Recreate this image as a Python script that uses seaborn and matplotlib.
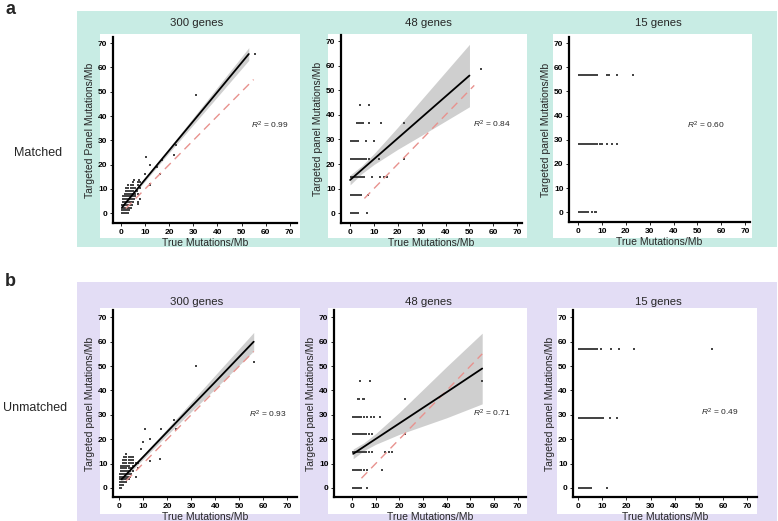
import matplotlib
matplotlib.use("Agg")
import matplotlib.pyplot as plt
from matplotlib.patches import Rectangle
import seaborn as sns
import pandas as pd

sns.set_theme(style="white")
plt.rcParams["font.family"] = ["Liberation Sans", "DejaVu Sans"]
plt.rcParams["mathtext.fontset"] = "custom"
plt.rcParams["mathtext.it"] = "Liberation Sans:italic"
plt.rcParams["mathtext.rm"] = "Liberation Sans"

# ---------------- data ----------------
panel_titles = ["300 genes", "48 genes", "15 genes"]
row_labels = ["Matched", "Unmatched"]
ticks = [0, 10, 20, 30, 40, 50, 60, 70]

# Matched, 300 genes: rows of points (y level -> x values) plus outliers
a1_levels = [0, 1.2, 2.3, 3.5, 4.6, 5.8, 6.9, 8.1, 9.2, 10.4, 11.5, 12.7, 13.8]
a1_rows = [
    [0.5, 1, 1.5, 2, 2.5, 3],
    [0.5, 1, 1.5, 2, 2.5, 3, 3.5],
    [0.5, 1, 1.5, 2, 2.5, 3, 3.5, 4],
    [0.5, 1, 1.5, 2, 2.5, 3, 3.5, 4, 4.5],
    [1, 1.5, 2, 2.5, 3, 3.5, 4, 5, 7],
    [1, 1.5, 2, 2.5, 3, 3.5, 4, 4.5, 5.5, 8],
    [1, 1.5, 2, 2.5, 3, 3.5, 4, 5, 6],
    [1.5, 2, 2.5, 3, 3.5, 4, 5, 6, 7],
    [2, 2.5, 3, 3.5, 4, 5, 6.5],
    [2, 2.5, 3, 4, 5, 6, 8],
    [3, 4, 5, 7, 12],
    [5, 7, 8],
    [5.5, 7.5],
]
a1_out_x = [7, 10, 10.5, 12, 12, 15, 16, 17, 22, 23, 31, 55.5]
a1_out_y = [4, 16, 23, 20, 12, 19, 16, 22, 24, 28, 48.5, 65.5]
a1_fit_x = [0.5, 5, 10, 20, 30, 40, 53]
a1_fit_y = [2.5, 7.9, 13.9, 25.9, 37.9, 49.9, 65.5]
a1_ci_hw = [0.8, 0.6, 0.7, 1.0, 1.5, 2.0, 2.6]
a1_ident = [2, 55]
a1_r2 = "0.99"

# Matched, 48 genes
a2_levels = [0, 7.3, 14.6, 22, 29.3, 36.6, 44]
a2_rows = [
    [0.5, 1, 1.5, 2, 2.5, 3, 3.5, 7],
    [0.5, 1, 1.5, 2, 2.5, 3, 3.5, 4, 4.5, 7.5],
    [0.5, 1, 1.5, 2, 2.5, 3, 3.5, 4, 4.5, 5, 6, 9, 12.5, 14, 15.5],
    [0.5, 1, 1.5, 2, 2.5, 3, 3.5, 4, 4.5, 5, 5.5, 6, 6.5, 8, 12, 22.5],
    [0.5, 1, 1.5, 2, 2.5, 3, 3.5, 6.5, 10],
    [3, 3.5, 4, 4.5, 5, 5.5, 8, 13, 22.5],
    [4, 8],
]
a2_out_x = [55]
a2_out_y = [58.6]
a2_fit_x = [0, 5, 10, 20, 30, 40, 50]
a2_fit_y = [13.5, 17.75, 22, 30.5, 39, 47.5, 56]
a2_ci_hw = [2, 1.6, 2.2, 4.5, 7.3, 10, 12.7]
a2_ident = [6, 52]
a2_r2 = "0.84"

# Matched, 15 genes
a3_levels = [0, 28.3, 56.6]
a3_rows = [
    [0.5, 1, 1.5, 2, 2.5, 3, 3.5, 4, 6, 7, 7.5],
    [0.5, 1, 1.5, 2, 2.5, 3, 3.5, 4, 4.5, 5, 5.5, 6, 6.5, 7, 7.5, 8, 9, 10, 12, 14, 16.5],
    [0.5, 1, 1.5, 2, 2.5, 3, 3.5, 4, 4.5, 5, 5.5, 6, 6.5, 7, 8, 12, 13, 16.5, 23],
]
a3_out_x = []
a3_out_y = []
a3_r2 = "0.60"

# Unmatched, 300 genes
b1_levels = [0, 1.2, 2.3, 3.5, 4.6, 5.8, 6.9, 8.1, 9.2, 10.4, 11.5, 12.7, 13.8]
b1_rows = [
    [0.5, 1],
    [0.5, 1, 1.5],
    [0.5, 1, 1.5, 2, 2.5, 3],
    [0.5, 1, 1.5, 2, 2.5, 3, 3.5, 4],
    [0.5, 1, 1.5, 2, 2.5, 3, 3.5, 4, 4.5, 7],
    [0.5, 1, 1.5, 2, 2.5, 3, 3.5, 4, 5],
    [1, 1.5, 2, 2.5, 3, 3.5, 4, 4.5, 6],
    [1, 1.5, 2, 2.5, 3, 4, 5, 8],
    [1, 1.5, 2, 2.5, 3, 3.5, 4, 6],
    [1.5, 2, 2.5, 3, 4, 5, 6, 7, 8],
    [1.5, 2, 3, 4, 5, 6],
    [2, 3, 4, 5, 6],
    [3],
]
b1_out_x = [9, 10, 11, 13, 13, 17, 17.5, 23, 23.5, 32, 56]
b1_out_y = [16, 19, 24, 20, 11, 12, 24, 28, 24, 50, 51.5]
b1_fit_x = [1, 5, 10, 20, 30, 40, 56]
b1_fit_y = [3.5, 7.6, 12.7, 23.0, 33.3, 43.5, 60]
b1_ci_hw = [1.0, 0.8, 0.9, 1.3, 2.0, 2.8, 3.8]
b1_ident = [3, 56]
b1_r2 = "0.93"

# Unmatched, 48 genes
b2_levels = [0, 7.3, 14.6, 22, 29.3, 36.6, 44]
b2_rows = [
    [0.5, 1, 1.5, 2, 2.5, 3, 3.5, 4, 6.5],
    [0.5, 1, 1.5, 2, 2.5, 3, 3.5, 4, 5, 6.5, 12.5],
    [0.5, 1, 1.5, 2, 2.5, 3, 3.5, 4, 4.5, 5, 6, 7, 8.5, 14, 15.5, 17],
    [0.5, 1, 1.5, 2, 2.5, 3, 3.5, 4, 4.5, 5, 5.5, 6, 7, 8.5, 22.5],
    [0.5, 1, 1.5, 2, 2.5, 3, 3.5, 4, 5, 6.5, 8, 9.5, 12],
    [2.5, 3, 4.5, 5, 22.5],
    [3.5, 7.5, 55],
]
b2_out_x = []
b2_out_y = []
b2_fit_x = [0.5, 5, 10, 20, 30, 40, 55]
b2_fit_y = [14, 16.9, 20.1, 26.5, 32.9, 39.3, 49]
b2_ci_hw = [2, 1.6, 2.2, 4.5, 7.5, 10.5, 14.5]
b2_ident = [4, 55]
b2_r2 = "0.71"

# Unmatched, 15 genes
b3_levels = [0, 28.5, 57]
b3_rows = [
    [0.5, 1, 1.5, 2, 2.5, 3, 3.5, 4, 4.5, 5, 5.5, 12],
    [0.5, 1, 1.5, 2, 2.5, 3, 3.5, 4, 4.5, 5, 5.5, 6, 6.5, 7, 7.5, 8, 8.5, 9, 9.5, 10.5, 13, 16],
    [0.5, 1, 1.5, 2, 2.5, 3, 3.5, 4, 4.5, 5, 5.5, 6, 6.5, 7, 8, 9.5, 13.5, 17, 23, 55.5],
]
b3_out_x = []
b3_out_y = []
b3_r2 = "0.49"

# ---------------- layout ----------------
W, H = 778, 521
fig = plt.figure(figsize=(W / 100, H / 100), dpi=100)
fig.patch.set_facecolor("white")


def frect(x0, y0, x1, y1, color, z):
    fig.patches.append(Rectangle((x0 / W, 1 - y1 / H), (x1 - x0) / W, (y1 - y0) / H,
                                 transform=fig.transFigure, facecolor=color,
                                 edgecolor="none", zorder=z))


frect(77, 11, 777, 247, "#c8ece4", -3)
frect(77, 282, 777, 521, "#e3ddf5", -3)
white_boxes = [(100, 34, 300, 238), (328, 34, 527, 238), (553, 34, 752, 238),
               (100, 308, 300, 514), (328, 308, 527, 514), (557, 308, 757, 514)]
for (x0, y0, x1, y1) in white_boxes:
    frect(x0, y0, x1, y1, "white", -2)

axes_px = [(113, 37, 297, 223), (341, 35, 522, 223), (569, 37, 750, 222),
           (113, 310, 297, 497), (334, 310, 526, 497), (573, 310, 757, 497)]
xlims = [(-3.3, 73), (-3.8, 72), (-3.8, 72), (-2.5, 74), (-7.6, 73.5), (-2.1, 74)]
ylims = [(-4, 72.5), (-4, 72.5), (-4, 72.5), (-3.7, 73), (-3.7, 73), (-3.7, 73)]

panels = [
    (a1_levels, a1_rows, a1_out_x, a1_out_y, (a1_fit_x, a1_fit_y, a1_ci_hw), a1_ident, a1_r2, (54, 36)),
    (a2_levels, a2_rows, a2_out_x, a2_out_y, (a2_fit_x, a2_fit_y, a2_ci_hw), a2_ident, a2_r2, (51.5, 36)),
    (a3_levels, a3_rows, a3_out_x, a3_out_y, None, None, a3_r2, (45.5, 36)),
    (b1_levels, b1_rows, b1_out_x, b1_out_y, (b1_fit_x, b1_fit_y, b1_ci_hw), b1_ident, b1_r2, (54, 30)),
    (b2_levels, b2_rows, b2_out_x, b2_out_y, (b2_fit_x, b2_fit_y, b2_ci_hw), b2_ident, b2_r2, (51, 30.5)),
    (b3_levels, b3_rows, b3_out_x, b3_out_y, None, None, b3_r2, (51, 31)),
]
ylabels = ["Targeted Panel Mutations/Mb"] + ["Targeted panel Mutations/Mb"] * 5

for i, (levels, rows, ox, oy, fit, ident, r2, r2pos) in enumerate(panels):
    l, t, r, b = axes_px[i]
    ax = fig.add_axes([l / W, 1 - b / H, (r - l) / W, (b - t) / H])
    ax.set_facecolor("none")
    xs, ys = [], []
    for lev, row in zip(levels, rows):
        xs += row
        ys += [lev] * len(row)
    xs += ox
    ys += oy
    df = pd.DataFrame({"x": xs, "y": ys})
    if fit is not None:
        fx, fy, hw = fit
        lo = [v - h for v, h in zip(fy, hw)]
        hi = [v + h for v, h in zip(fy, hw)]
        ax.fill_between(fx, lo, hi, color="#cfcfcf", lw=0, zorder=1)
    sns.scatterplot(data=df, x="x", y="y", ax=ax, s=2.5, marker="s", color="#454545",
                    linewidth=0, edgecolor=None, zorder=2)
    if fit is not None:
        sns.lineplot(x=fx, y=fy, ax=ax, color="black", lw=1.3, zorder=4)
        sns.lineplot(x=ident, y=ident, ax=ax, color="#e8928e", lw=1.0,
                     dashes=False, zorder=3).lines[-1].set_dashes((6, 4))
    ax.text(r2pos[0], r2pos[1], r"$R^2$ = " + r2, fontsize=6, ha="left", va="center")
    ax.set_xlim(*xlims[i])
    ax.set_ylim(*ylims[i])
    ax.set_xticks(ticks)
    ax.set_yticks(ticks)
    ax.tick_params(axis="both", labelsize=6, length=2, width=0.6, pad=2,
                   colors="black", bottom=True, left=True)
    for lab in ax.get_xticklabels() + ax.get_yticklabels():
        lab.set_fontweight("bold")
    for s in ["top", "right"]:
        ax.spines[s].set_visible(False)
    for s in ["left", "bottom"]:
        ax.spines[s].set_color("black")
        ax.spines[s].set_linewidth(1.6)
    ax.set_xlabel("True Mutations/Mb", fontsize=7.5, labelpad=1.5)
    ax.set_ylabel(ylabels[i], fontsize=7.5, labelpad=2)

# titles and labels
title_x = [197, 428, 658]
for j, tname in enumerate(panel_titles):
    fig.text(title_x[j] / W, 1 - 23 / H, tname, ha="center", va="center", fontsize=8.2)
    fig.text(title_x[j] / W, 1 - 302 / H, tname, ha="center", va="center", fontsize=8.2)
fig.text(38 / W, 1 - 153 / H, row_labels[0], ha="center", va="center", fontsize=9)
fig.text(35 / W, 1 - 408 / H, row_labels[1], ha="center", va="center", fontsize=9)
fig.text(5 / W, 1 - 10 / H, "a", ha="left", va="center", fontsize=13, fontweight="bold")
fig.text(5 / W, 1 - 282 / H, "b", ha="left", va="center", fontsize=13, fontweight="bold")

fig.savefig("out.png", dpi=100)
